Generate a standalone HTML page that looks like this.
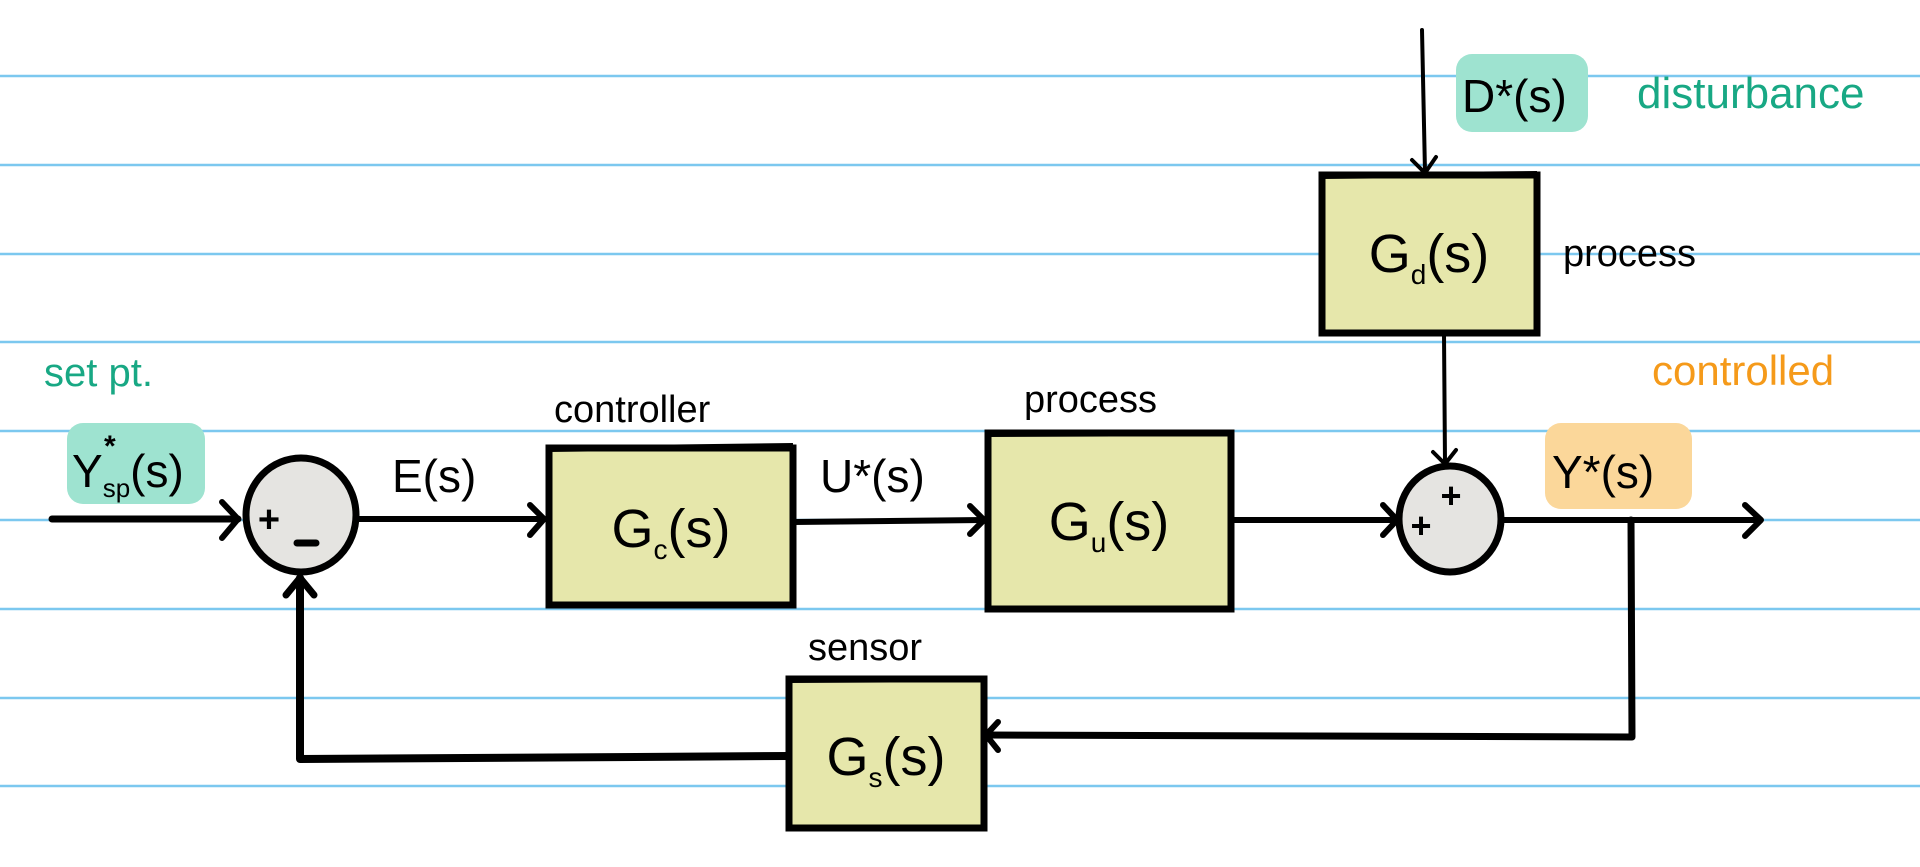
<!DOCTYPE html>
<html><head><meta charset="utf-8"><style>
html,body{margin:0;padding:0;background:#fff;}
svg{display:block;}
text{font-family:"Liberation Sans",sans-serif;}
</style></head><body>
<svg width="1920" height="867" viewBox="0 0 1920 867">
<g stroke="#7cc8ef" stroke-width="2.5">
<line x1="0" y1="76" x2="1920" y2="76"/><line x1="0" y1="165" x2="1920" y2="165"/>
<line x1="0" y1="254" x2="1920" y2="254"/><line x1="0" y1="342" x2="1920" y2="342"/>
<line x1="0" y1="431" x2="1920" y2="431"/><line x1="0" y1="520" x2="1920" y2="520"/>
<line x1="0" y1="609" x2="1920" y2="609"/><line x1="0" y1="698" x2="1920" y2="698"/>
<line x1="0" y1="786" x2="1920" y2="786"/>
</g>
<rect x="67" y="423" width="138" height="81" rx="16" fill="#9ee3d0"/>
<rect x="1456" y="54" width="132" height="78" rx="16" fill="#9ee3d0"/>
<rect x="1545" y="423" width="147" height="86" rx="16" fill="#fbd79a"/>
<g fill="none" stroke="#000" stroke-linecap="round" stroke-linejoin="round">
<path d="M52 519 L238 519" stroke-width="7"/>
<path d="M222 502 L238 519 L222 538" stroke-width="6"/>
<path d="M358 519 L543 519" stroke-width="6"/>
<path d="M530 505 L544 519 L530 535" stroke-width="6"/>
<path d="M793 522 L984 520" stroke-width="6"/>
<path d="M970 506 L984 520 L970 534" stroke-width="6"/>
<path d="M1232 520 L1396 520" stroke-width="6"/>
<path d="M1383 505 L1397 520 L1383 535" stroke-width="6"/>
<path d="M1502 520 L1760 520" stroke-width="6"/>
<path d="M1745 505 L1761 520 L1745 536" stroke-width="6"/>
<path d="M1422 30 L1425 172" stroke-width="4"/>
<path d="M1412 160 L1425 173 L1436 157" stroke-width="4"/>
<path d="M1444 334 L1445 463" stroke-width="4"/>
<path d="M1433 452 L1445 464 L1456 450" stroke-width="4"/>
<path d="M1631 520 L1632 737 L986 735" stroke-width="7"/>
<path d="M998 722 L986 735 L998 750" stroke-width="6"/>
<path d="M789 756 L300 759 L300 578" stroke-width="8"/>
<path d="M286 595 L300 578 L314 595" stroke-width="7"/>
</g>
<ellipse cx="301" cy="515" rx="55" ry="57" fill="#e5e4e1" stroke="#000" stroke-width="7"/>
<text x="269" y="532" font-size="38" font-weight="bold" text-anchor="middle">+</text>
<line x1="297" y1="543" x2="316" y2="543" stroke="#000" stroke-width="7" stroke-linecap="round"/>
<ellipse cx="1450" cy="519" rx="51" ry="53" fill="#e5e4e1" stroke="#000" stroke-width="7"/>
<text x="1421" y="538" font-size="36" font-weight="bold" text-anchor="middle">+</text>
<text x="1451" y="508" font-size="36" font-weight="bold" text-anchor="middle">+</text>
<g fill="#e6e7ab" stroke="#000" stroke-width="7">
<rect x="549" y="448" width="244" height="157"/>
<rect x="988" y="433" width="243" height="176"/>
<rect x="1322" y="175" width="215" height="158"/>
<rect x="789" y="679" width="195" height="149"/>
</g>
<g stroke="#000" stroke-width="6">
<line x1="549" y1="449" x2="793" y2="446"/><line x1="988" y1="434" x2="1231" y2="433"/>
<line x1="1322" y1="176" x2="1537" y2="174"/><line x1="789" y1="680" x2="984" y2="679"/>
</g>
<g font-size="54" text-anchor="middle">
<text x="671" y="547">G<tspan font-size="28" dy="12">c</tspan><tspan dy="-12">(s)</tspan></text>
<text x="1109" y="540">G<tspan font-size="28" dy="12">u</tspan><tspan dy="-12">(s)</tspan></text>
<text x="1429" y="272">G<tspan font-size="28" dy="12">d</tspan><tspan dy="-12">(s)</tspan></text>
<text x="886" y="775">G<tspan font-size="28" dy="12">s</tspan><tspan dy="-12">(s)</tspan></text>
</g>
<g font-size="46">
<text x="72" y="487">Y<tspan font-size="26" dy="10">sp</tspan><tspan dy="-10">(s)</tspan></text>
<text x="104" y="456" font-size="30" font-weight="bold">*</text>
<text x="392" y="492">E(s)</text>
<text x="820" y="492">U*(s)</text>
<text x="1462" y="112">D*(s)</text>
<text x="1552" y="488">Y*(s)</text>
</g>
<g font-size="38">
<text x="44" y="386" fill="#18a884" font-size="40">set pt.</text>
<text x="1637" y="108" fill="#18a884" font-size="44">disturbance</text>
<text x="1652" y="385" fill="#f59a1a" font-size="42">controlled</text>
<text x="554" y="422">controller</text>
<text x="1024" y="412">process</text>
<text x="1563" y="266">process</text>
<text x="808" y="660">sensor</text>
</g>
</svg>
</body></html>
